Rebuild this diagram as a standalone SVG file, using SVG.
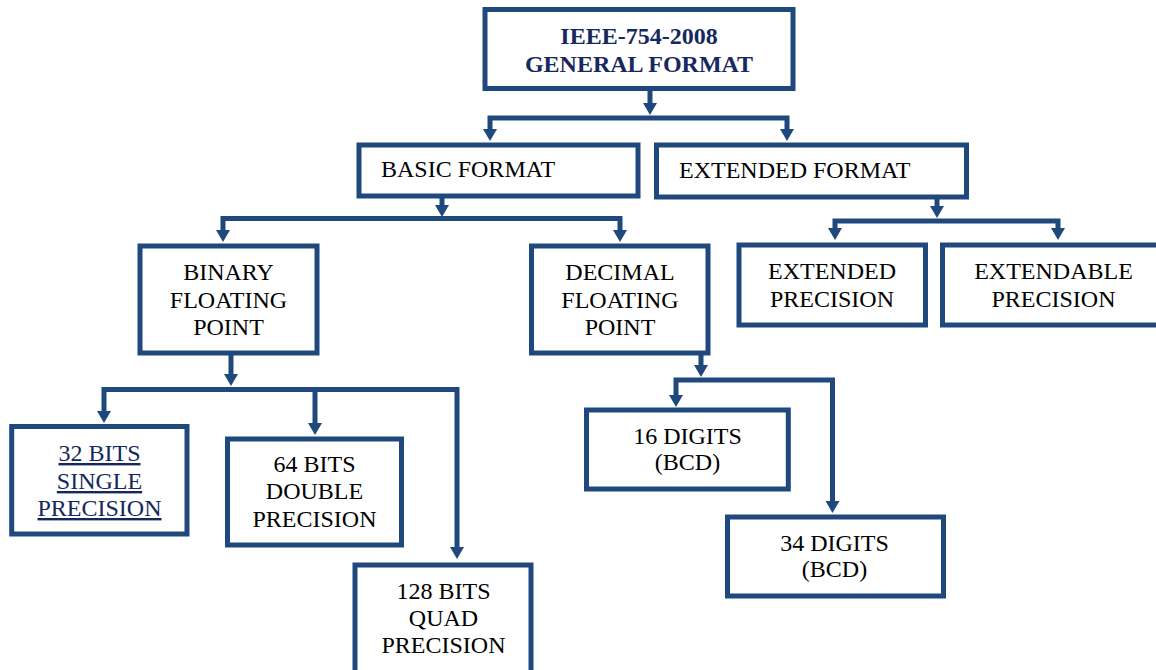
<svg xmlns="http://www.w3.org/2000/svg" width="1156" height="670" viewBox="0 0 1156 670">
<defs>
<style>
.box{fill:#ffffff;stroke:#1F497D;stroke-width:5}
.con{fill:none;stroke:#1F497D;stroke-width:5;stroke-linejoin:miter;stroke-linecap:butt}
.arr{marker-end:url(#ah)}
.arr2{marker-start:url(#ah);marker-end:url(#ah)}
.t{font-size:24px;fill:#000000}
.c{text-anchor:middle}
.title{font-size:24px;font-weight:bold;fill:#17285E;text-anchor:middle}
.link{fill:#14285E;text-decoration:underline}
</style>
<marker id="ah" markerUnits="userSpaceOnUse" markerWidth="14" markerHeight="14" refX="0" refY="7" orient="90" overflow="visible">
<path d="M0,0 L12,7 L0,14 z" fill="#1F497D"/>
</marker>
</defs>
<rect width="1156" height="670" fill="#ffffff"/>

<g id="connectors">
<path class="con arr" d="M650,91 V103"/>
<path class="con arr2" d="M490,129 V118 H787 V129"/>
<path class="con arr" d="M442,198 V205"/>
<path class="con arr2" d="M223,230 V218.5 H620 V230"/>
<path class="con arr" d="M937,199 V206"/>
<path class="con arr2" d="M835,228 V221 H1058 V228"/>
<path class="con arr" d="M231,355 V374"/>
<path class="con arr2" d="M104,411 V389.5 H457 V547"/>
<path class="con arr" d="M315,389.5 V423"/>
<path class="con arr" d="M701,355 V365"/>
<path class="con arr2" d="M676,395 V380 H832.5 V501"/>
</g>

<g font-family="Liberation Serif, Times New Roman, DejaVu Serif, serif">
<g id="n-ieee">
<rect class="box" x="485" y="9.5" width="308" height="79"/>
<text class="title" x="639" y="44">IEEE-754-2008</text>
<text class="title" x="639" y="72">GENERAL FORMAT</text>
</g>

<g id="n-basic">
<rect class="box" x="359" y="145" width="279" height="51"/>
<text class="t" x="381" y="177">BASIC FORMAT</text>
</g>

<g id="n-extended">
<rect class="box" x="656.5" y="145" width="310" height="52"/>
<text class="t" x="679" y="178">EXTENDED FORMAT</text>
</g>

<g id="n-binary">
<rect class="box" x="140" y="246" width="177" height="107"/>
<text class="t c" x="228.5" y="280">BINARY</text>
<text class="t c" x="228.5" y="307.5">FLOATING</text>
<text class="t c" x="228.5" y="334.5">POINT</text>
</g>

<g id="n-decimal">
<rect class="box" x="531.5" y="246" width="176.5" height="107"/>
<text class="t c" x="620" y="280">DECIMAL</text>
<text class="t c" x="620" y="307.5">FLOATING</text>
<text class="t c" x="620" y="334.5">POINT</text>
</g>

<g id="n-extprec">
<rect class="box" x="739" y="245" width="186.5" height="80"/>
<text class="t c" x="832" y="279">EXTENDED</text>
<text class="t c" x="832" y="306.5">PRECISION</text>
</g>

<g id="n-extendable">
<rect class="box" x="942.5" y="245" width="222" height="80"/>
<text class="t c" x="1053.5" y="279">EXTENDABLE</text>
<text class="t c" x="1053.5" y="306.5">PRECISION</text>
</g>

<g id="n-32">
<rect class="box" x="11.7" y="426.5" width="175.3" height="107.5"/>
<text class="t c link" x="99.5" y="461">32 BITS</text>
<text class="t c link" x="99.5" y="489">SINGLE</text>
<text class="t c link" x="99.5" y="516">PRECISION</text>
</g>

<g id="n-64">
<rect class="box" x="227.5" y="439" width="174" height="106"/>
<text class="t c" x="314.5" y="471.5">64 BITS</text>
<text class="t c" x="314.5" y="499">DOUBLE</text>
<text class="t c" x="314.5" y="526.5">PRECISION</text>
</g>

<g id="n-128">
<rect class="box" x="355" y="565" width="176" height="110"/>
<text class="t c" x="443.5" y="599">128 BITS</text>
<text class="t c" x="443.5" y="625.5">QUAD</text>
<text class="t c" x="443.5" y="653">PRECISION</text>
</g>

<g id="n-16">
<rect class="box" x="586.5" y="410" width="201.8" height="79"/>
<text class="t c" x="687.5" y="444">16 DIGITS</text>
<text class="t c" x="687.5" y="470">(BCD)</text>
</g>

<g id="n-34">
<rect class="box" x="727.5" y="517" width="216" height="79"/>
<text class="t c" x="834.5" y="550.5">34 DIGITS</text>
<text class="t c" x="834.5" y="576.5">(BCD)</text>
</g>
</g>
</svg>
